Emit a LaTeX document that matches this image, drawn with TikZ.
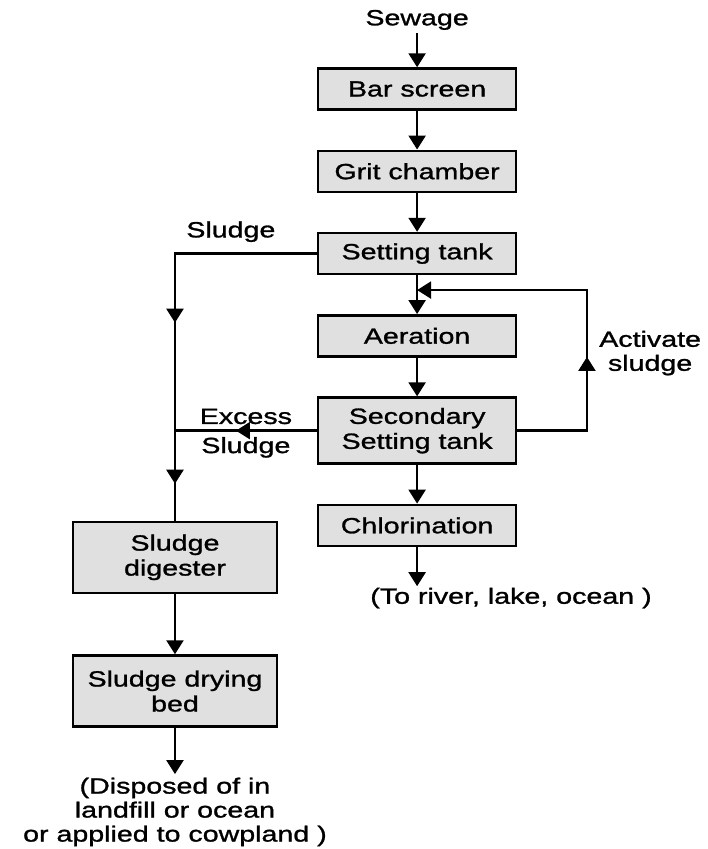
\documentclass[tikz,border=0pt]{standalone}
\usepackage{fontspec}
\setmainfont{Liberation Sans}[FakeStretch=1.3,FakeBold=1.2]
\usepackage{tikz}
\usetikzlibrary{arrows.meta,positioning,calc,decorations.markings}

\begin{document}
\begin{tikzpicture}[
    module/.style={draw, line width=2.6pt, fill=gray!24, minimum height=1.44cm, minimum width=6.96cm, align=center, font=\fontsize{22}{25}\selectfont},
    arrow/.style={line width=2.3pt,-{Triangle[width=17pt,length=14pt]}},
    flow/.style={line width=2.3pt},
    flowmark/.style={postaction={decorate,decoration={markings,mark=at position #1 with {\arrow{Triangle[width=17pt,length=14pt]}}}}},
    tag/.style={font=\fontsize{22}{24}\selectfont, align=center},
    node distance=1.36cm
]
    \useasboundingbox (0,0) rectangle (24.88,-29.84);

    % Main treatment line
    \node[tag] (sewage) at (14.66,-0.70) {Sewage};
    \node[module] (bar) at (14.66,-3.13) {Bar screen};
    \node[module, below=of bar] (grit) {Grit chamber};
    \node[module, below=of grit] (setting) {Setting tank};
    \node[module, below=of setting] (aeration) {Aeration};
    \node[module, below=of aeration, minimum height=2.32cm] (secondary) {Secondary\\Setting tank};
    \node[module, below=of secondary] (chlor) {Chlorination};
    \node[tag] (river) at (17.96,-21.02) {(To river, lake, ocean )};

    % Sludge line
    \node[module, minimum width=7.17cm, minimum height=2.5cm] (digester) at (6.15,-19.59) {Sludge\\digester};
    \node[module, minimum width=7.17cm, minimum height=2.5cm, below=2.11cm of digester] (drying) {Sludge drying\\bed};
    \node[tag, below=1.62cm of drying] (disposed) {(Disposed of in\\landfill or ocean\\or applied to cowpland )};

    % Labels
    \node[tag] (sludge) at ($(setting.west)+(-3.02,0.77)$) {Sludge};
    \node[tag] (activate) at (22.85,-12.41) {Activate\\sludge};

    % Connections
    \draw[arrow] (sewage) -- (bar);
    \draw[arrow] (bar) -- (grit);
    \draw[arrow] (grit) -- (setting);
    \draw[arrow] (setting) -- (aeration);
    \draw[arrow] (aeration) -- (secondary);
    \draw[arrow] (secondary) -- (chlor);
    \coordinate[below=1.37cm of chlor] (outfall);
    \draw[arrow] (chlor) -- (outfall);
    \draw[arrow] (digester) -- (drying);
    \draw[arrow] (drying) -- (disposed);

    % Sludge return and waste
    \draw[flow, flowmark=0.516, flowmark=0.91] (setting.west) -| (digester.north);
    \draw[flow, flowmark=0.57] (secondary.west) -- (secondary.west -| digester.north)
        node[tag, midway, above=2pt] (excess) {Excess}
        node[tag, midway, below=2pt] (excesssludge) {Sludge};
    \coordinate (fb) at ($(setting.south)!0.38!(aeration.north)$);
    \coordinate (fbright) at ($(fb)+(5.97,0)$);
    \draw[arrow, flowmark=0.377] (secondary.east) -| (fbright) -- (fb);
\end{tikzpicture}
\end{document}
